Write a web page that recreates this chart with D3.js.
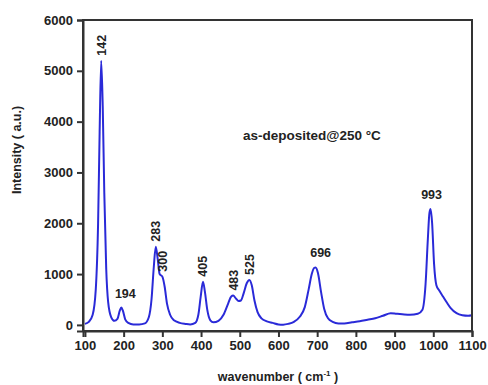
<!DOCTYPE html>
<html>
<head>
<meta charset="utf-8">
<title>Raman spectrum</title>
<script src="https://cdn.jsdelivr.net/npm/d3@7"></script>
<style>
  body { margin: 0; background: #fff; }
  text { font-family: "Liberation Sans", Arial, sans-serif; font-weight: bold; fill: #222; }
</style>
</head>
<body>
<div id="chart"></div>
<script>
// spectrum
var wavenumber = [100, 110, 120, 128, 134, 138, 142, 146, 150, 155, 160, 168, 176, 184, 190, 194, 198, 204, 212, 225,
  240, 255, 265, 272, 278, 283, 288, 293, 300, 306, 312, 320, 330, 345, 360, 372, 385, 393, 399, 405,
  410, 416, 424, 432, 445, 458, 470, 478, 483, 490, 497, 503, 510, 518, 525, 531, 538, 546, 556, 570,
  585, 600, 612, 625, 640, 655, 668, 678, 686, 692, 696, 702, 710, 718, 728, 740, 755, 770, 790, 810,
  830, 850, 870, 890, 905, 920, 940, 960, 972, 980, 986, 990, 993, 997, 1002, 1008, 1015, 1025, 1035, 1045,
  1060, 1075, 1090, 1100];
var intensity = [20, 60, 200, 700, 2000, 3800, 5200, 4300, 2600, 1100, 450, 150, 80, 120, 280, 340, 280, 110, 40, 10,
  10, 30, 150, 500, 1150, 1540, 1300, 1000, 950, 750, 420, 200, 90, 40, 20, 10, 40, 200, 550, 850,
  650, 300, 90, 50, 80, 200, 420, 560, 577, 520, 470, 480, 620, 820, 885, 780, 480, 250, 130, 70,
  40, 10, 5, 20, 60, 160, 350, 700, 1000, 1120, 1130, 1020, 650, 320, 130, 60, 30, 30, 50, 70,
  100, 130, 180, 230, 220, 210, 200, 220, 300, 800, 1700, 2200, 2280, 2000, 1200, 780, 680, 560, 440, 330,
  230, 190, 180, 190];

var peaks = [142, 194, 283, 300, 405, 483, 525, 696, 993];
var peakRotated = [true, false, true, true, true, true, true, false, false];

var xTicks = [100, 200, 300, 400, 500, 600, 700, 800, 900, 1000, 1100];
var yTicks = [0, 1000, 2000, 3000, 4000, 5000, 6000];

var width = 488, height = 385;
var margin = { left: 83, right: 16, top: 20, bottom: 54 };

var svg = d3.select('#chart').append('svg')
  .attr('width', width)
  .attr('height', height);

var x = d3.scaleLinear().domain([95, 1100]).range([margin.left, width - margin.right]);
var y = d3.scaleLinear().domain([-120, 6000]).range([height - margin.bottom, margin.top]);

var pts = wavenumber.map((w, i) => [w, intensity[i]]);

var line = d3.line()
  .x(d => x(d[0]))
  .y(d => y(d[1]))
  .curve(d3.curveMonotoneX);

svg.append('path')
  .datum(pts)
  .attr('fill', 'none')
  .attr('stroke', '#2a2ad8')
  .attr('stroke-width', 2)
  .attr('d', line);

// frame
svg.append('rect')
  .attr('x', x.range()[0])
  .attr('y', y.range()[1])
  .attr('width', x.range()[1] - x.range()[0])
  .attr('height', y.range()[0] - y.range()[1])
  .attr('fill', 'none')
  .attr('stroke', '#333')
  .attr('stroke-width', 2);

var xAxis = svg.append('g')
  .attr('transform', 'translate(0,' + y.range()[0] + ')')
  .call(d3.axisBottom(x).tickValues(xTicks).tickFormat(d3.format('d')).tickSize(6).tickPadding(4));
var yAxis = svg.append('g')
  .attr('transform', 'translate(' + x.range()[0] + ',0)')
  .call(d3.axisLeft(y).tickValues(yTicks).tickFormat(d3.format('d')).tickSize(6).tickPadding(4));

[xAxis, yAxis].forEach(g => {
  g.select('.domain').attr('stroke', '#333').attr('stroke-width', 2);
  g.selectAll('.tick line').attr('stroke', '#333').attr('stroke-width', 2);
  g.selectAll('.tick text').attr('font-size', 13).attr('font-family', null).attr('fill', '#222');
});

// peak labels
peaks.forEach((p, i) => {
  var h = intensity[wavenumber.indexOf(p)];
  var px = x(p), py = y(h);
  if (peakRotated[i]) {
    svg.append('text')
      .attr('transform', 'translate(' + (px + 4.5) + ',' + (py - 5) + ') rotate(-90)')
      .attr('font-size', 12.5)
      .text(p);
  } else {
    svg.append('text')
      .attr('x', px + (p === 194 ? 4 : p === 696 ? 5 : 1))
      .attr('y', py - 10)
      .attr('text-anchor', 'middle')
      .attr('font-size', 12.5)
      .text(p);
  }
});

svg.append('text')
  .attr('x', 243)
  .attr('y', 140)
  .attr('font-size', 13.5)
  .text('as-deposited@250 °C');

// axis titles
var xt = svg.append('text')
  .attr('x', 278)
  .attr('y', 381)
  .attr('text-anchor', 'middle')
  .attr('font-size', 12.5);
xt.append('tspan').text('wavenumber ( cm');
xt.append('tspan').attr('dy', -5).attr('font-size', 8).text('-1');
xt.append('tspan').attr('dy', 5).text(' )');

svg.append('text')
  .attr('transform', 'translate(21,150) rotate(-90)')
  .attr('text-anchor', 'middle')
  .attr('font-size', 12.5)
  .text('Intensity ( a.u.)');
</script>
</body>
</html>
